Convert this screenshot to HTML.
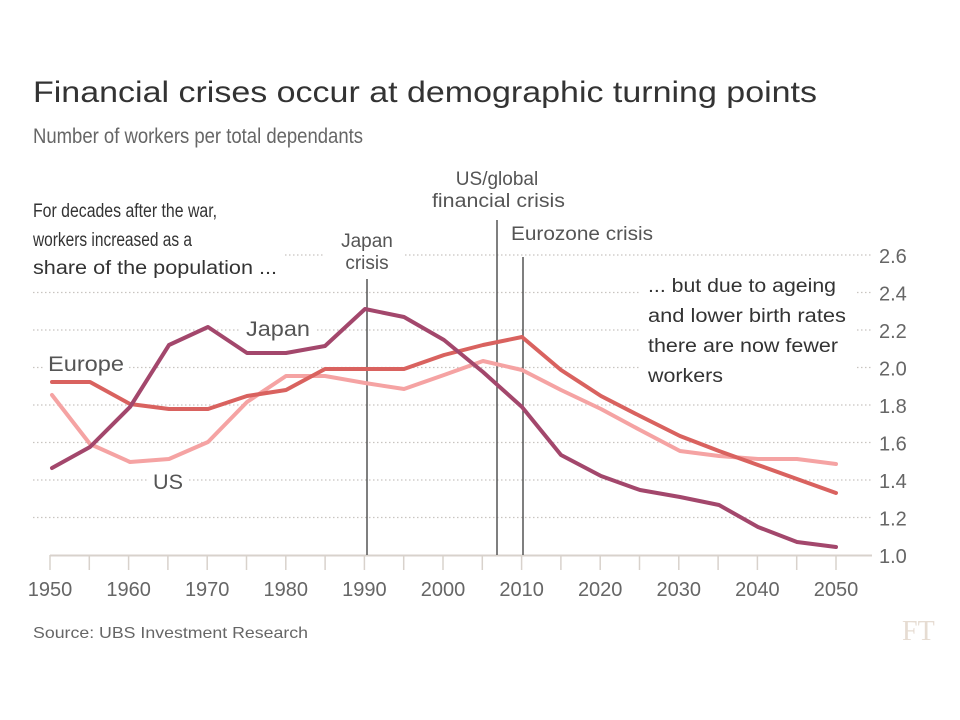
<!DOCTYPE html>
<html><head><meta charset="utf-8"><style>
html,body{margin:0;padding:0;background:#fff;}
svg{display:block;font-family:"Liberation Sans",sans-serif;}
</style></head><body>
<svg width="960" height="720" viewBox="0 0 960 720" xmlns="http://www.w3.org/2000/svg">
<rect width="960" height="720" fill="#fff"/>
<text x="33" y="102" font-size="30" fill="#333" textLength="784" lengthAdjust="spacingAndGlyphs">Financial crises occur at demographic turning points</text>
<text x="33" y="143" font-size="21" fill="#666" textLength="330" lengthAdjust="spacingAndGlyphs">Number of workers per total dependants</text>

<g stroke="#c8c4c0" stroke-width="1.3" stroke-dasharray="1.5 2.5">
<line x1="33" y1="255" x2="871" y2="255"/>
<line x1="33" y1="292.5" x2="871" y2="292.5"/>
<line x1="33" y1="330" x2="871" y2="330"/>
<line x1="33" y1="367.5" x2="871" y2="367.5"/>
<line x1="33" y1="405" x2="871" y2="405"/>
<line x1="33" y1="442.5" x2="871" y2="442.5"/>
<line x1="33" y1="480" x2="871" y2="480"/>
<line x1="33" y1="517.5" x2="871" y2="517.5"/>
</g>
<g fill="#fff">
<rect x="30" y="195" width="255" height="85"/>
<rect x="325" y="228" width="80" height="46"/>
<rect x="425" y="165" width="145" height="50"/>
<rect x="505" y="222" width="155" height="24"/>
<rect x="640" y="270" width="215" height="118"/>
<rect x="44" y="350" width="84" height="27"/>
<rect x="240" y="316" width="76" height="27"/>
<rect x="147" y="469" width="42" height="26"/>
</g>

<line x1="50" y1="555.5" x2="872" y2="555.5" stroke="#d8d2cc" stroke-width="2"/>
<g stroke="#d8d2cc" stroke-width="1.5">
<line x1="50" y1="555" x2="50" y2="570"/><line x1="89.3" y1="555" x2="89.3" y2="570"/><line x1="128.6" y1="555" x2="128.6" y2="570"/><line x1="167.9" y1="555" x2="167.9" y2="570"/><line x1="207.2" y1="555" x2="207.2" y2="570"/><line x1="246.5" y1="555" x2="246.5" y2="570"/><line x1="285.8" y1="555" x2="285.8" y2="570"/><line x1="325.1" y1="555" x2="325.1" y2="570"/><line x1="364.4" y1="555" x2="364.4" y2="570"/><line x1="403.7" y1="555" x2="403.7" y2="570"/><line x1="443" y1="555" x2="443" y2="570"/><line x1="482.3" y1="555" x2="482.3" y2="570"/><line x1="521.6" y1="555" x2="521.6" y2="570"/><line x1="560.9" y1="555" x2="560.9" y2="570"/><line x1="600.2" y1="555" x2="600.2" y2="570"/><line x1="639.5" y1="555" x2="639.5" y2="570"/><line x1="678.8" y1="555" x2="678.8" y2="570"/><line x1="718.1" y1="555" x2="718.1" y2="570"/><line x1="757.4" y1="555" x2="757.4" y2="570"/><line x1="796.7" y1="555" x2="796.7" y2="570"/><line x1="836" y1="555" x2="836" y2="570"/>
</g>

<g stroke="#555" stroke-width="1.5">
<line x1="367" y1="279" x2="367" y2="555"/>
<line x1="497" y1="220" x2="497" y2="555"/>
<line x1="523" y1="257" x2="523" y2="555"/>
</g>

<g fill="none" stroke-width="4" stroke-linejoin="round" stroke-linecap="round">
<polyline stroke="#f5a3a3" points="52,395 90,444 130,462 169,459 208,442 247,402 286,376 325,376 365,383 404,389 444,375 483,361 522,370 561,390 601,409 640,430 680,451 719,456 758,459 797,459 836,464"/>
<polyline stroke="#d9625f" points="52,382 90,382 130,404 169,409 208,409 247,396 286,390 325,369 365,369 404,369 444,355 483,345 522,337 561,370 601,396 640,416 680,436 719,451 758,465 797,479 836,493"/>
<polyline stroke="#a3476c" points="52,468 90,447 130,407 169,345 208,327 247,353 286,353 325,346 365,309 404,317 444,340 483,372 522,407 561,455 601,476 640,490 680,497 719,505 758,527 797,542 836,547"/>
</g>

<g font-size="19" fill="#333">
<text x="33" y="217" textLength="184" lengthAdjust="spacingAndGlyphs">For decades after the war,</text>
<text x="33" y="246" textLength="159" lengthAdjust="spacingAndGlyphs">workers increased as a</text>
<text x="33" y="274" textLength="244" lengthAdjust="spacingAndGlyphs">share of the population ...</text>
<text x="648" y="292" textLength="188" lengthAdjust="spacingAndGlyphs">... but due to ageing</text>
<text x="648" y="322" textLength="198" lengthAdjust="spacingAndGlyphs">and lower birth rates</text>
<text x="648" y="352" textLength="190" lengthAdjust="spacingAndGlyphs">there are now fewer</text>
<text x="648" y="382" textLength="75" lengthAdjust="spacingAndGlyphs">workers</text>
</g>
<g font-size="19" fill="#555">
<text x="367" y="247" text-anchor="middle">Japan</text>
<text x="367" y="269" text-anchor="middle">crisis</text>
<text x="497" y="185" text-anchor="middle">US/global</text>
<text x="432" y="207" textLength="133" lengthAdjust="spacingAndGlyphs">financial crisis</text>
<text x="511" y="240" textLength="142" lengthAdjust="spacingAndGlyphs">Eurozone crisis</text>
</g>
<g font-size="21" fill="#555">
<text x="48" y="371" textLength="76" lengthAdjust="spacingAndGlyphs">Europe</text>
<text x="246" y="336" textLength="64" lengthAdjust="spacingAndGlyphs">Japan</text>
<text x="153" y="489" textLength="30" lengthAdjust="spacingAndGlyphs">US</text>
</g>
<g font-size="20" fill="#666">
<text x="879" y="263">2.6</text><text x="879" y="300.5">2.4</text><text x="879" y="338">2.2</text><text x="879" y="375.5">2.0</text><text x="879" y="413">1.8</text><text x="879" y="450.5">1.6</text><text x="879" y="488">1.4</text><text x="879" y="525.5">1.2</text><text x="879" y="563">1.0</text>
</g>
<g font-size="20" fill="#666" text-anchor="middle">
<text x="50" y="596">1950</text><text x="128.6" y="596">1960</text><text x="207.2" y="596">1970</text><text x="285.8" y="596">1980</text><text x="364.4" y="596">1990</text><text x="443" y="596">2000</text><text x="521.6" y="596">2010</text><text x="600.2" y="596">2020</text><text x="678.8" y="596">2030</text><text x="757.4" y="596">2040</text><text x="836" y="596">2050</text>
</g>
<text x="33" y="638" font-size="16" fill="#666" textLength="275" lengthAdjust="spacingAndGlyphs">Source: UBS Investment Research</text>
<text x="902" y="640" font-size="28" fill="#e6dcd2" font-family="Liberation Serif,serif">FT</text>
</svg>
</body></html>
